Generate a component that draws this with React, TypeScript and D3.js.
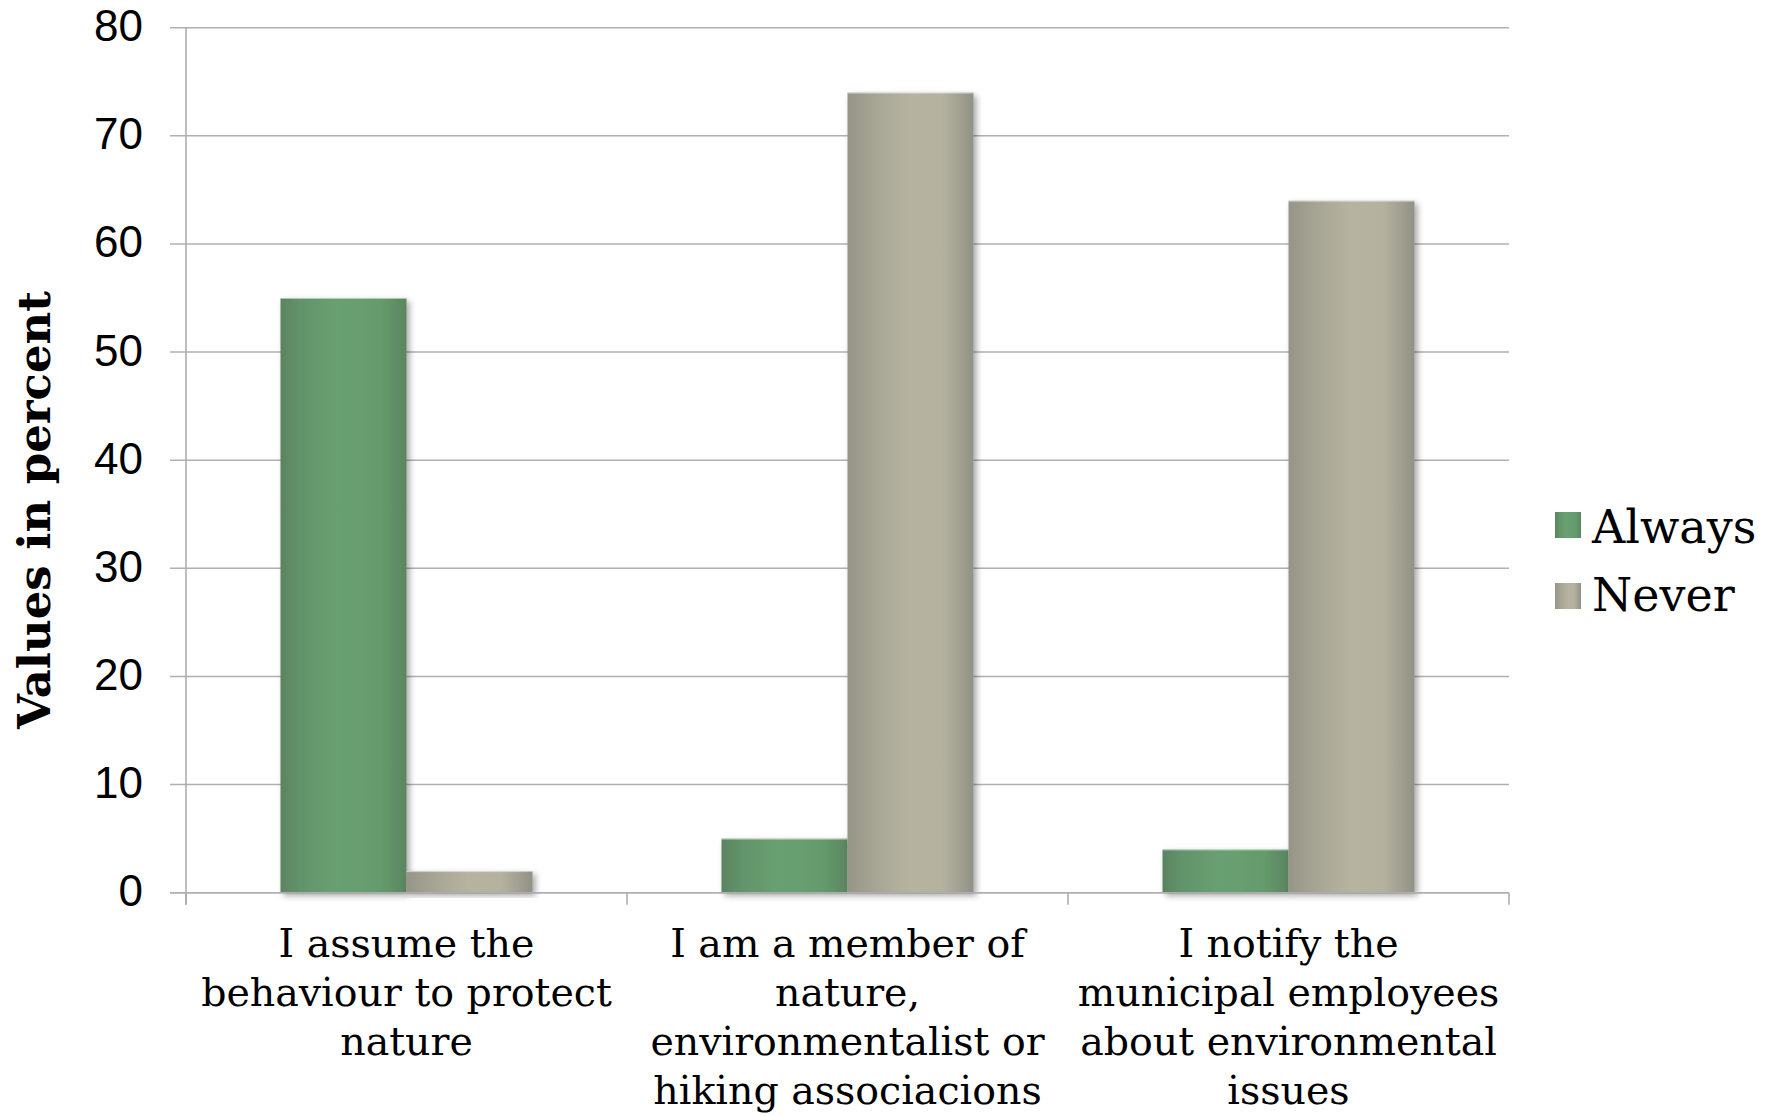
import React from "react";
import * as d3 from "d3";

const categories: string[][] = [
  ["I assume the", "behaviour to protect", "nature"],
  ["I am a member of", "nature,", "environmentalist or", "hiking associacions"],
  ["I notify the", "municipal employees", "about environmental", "issues"],
];
const seriesNames = ["Always", "Never"];
const always = [55, 5, 4];
const never = [2, 74, 64];
const yTicks = [0, 10, 20, 30, 40, 50, 60, 70, 80];
const yTitle = "Values in percent";

const W = 1775;
const H = 1116;
const M = { left: 186, right: 1509, top: 27.7, bottom: 892.7 };

export default function App() {
  const x = d3
    .scaleBand<number>()
    .domain(categories.map((_, i) => i))
    .range([M.left, M.right])
    .paddingInner(0)
    .paddingOuter(0);
  const y = d3.scaleLinear().domain([0, 80]).range([M.bottom, M.top]);
  const bw = x.bandwidth() / 3.5;
  const series = [always, never];
  const grads = ["gAlways", "gNever"];
  const serif = "'DejaVu Serif', serif";

  const catBounds = [...categories.map((_, i) => x(i)!), M.right];

  return (
    <svg
      width={W}
      height={H}
      style={{ position: "absolute", left: 0, top: 0, background: "#fff" }}
    >
      <defs>
        <linearGradient id="gAlways" x1="0" x2="1" y1="0" y2="0">
          <stop offset="0" stopColor="#5a8360" />
          <stop offset="0.15" stopColor="#62936a" />
          <stop offset="0.45" stopColor="#69a071" />
          <stop offset="0.8" stopColor="#659b6c" />
          <stop offset="1" stopColor="#5a8560" />
        </linearGradient>
        <linearGradient id="gNever" x1="0" x2="1" y1="0" y2="0">
          <stop offset="0" stopColor="#959487" />
          <stop offset="0.2" stopColor="#a5a493" />
          <stop offset="0.5" stopColor="#b6b4a0" />
          <stop offset="0.75" stopColor="#b4b29f" />
          <stop offset="1" stopColor="#929186" />
        </linearGradient>
        <filter id="shadow" x="-10%" y="-10%" width="130%" height="130%">
          <feDropShadow dx="3" dy="3" stdDeviation="3" floodColor="#000" floodOpacity="0.35" />
        </filter>
      </defs>

      {yTicks.map((t) => (
        <line
          key={"g" + t}
          x1={M.left - 16}
          x2={M.right}
          y1={y(t)}
          y2={y(t)}
          stroke="#b0b0b0"
          strokeWidth={1.5}
        />
      ))}
      <line x1={M.left} x2={M.left} y1={M.top} y2={M.bottom + 12} stroke="#a8a8a8" strokeWidth={1.5} />
      {catBounds.map((cx, i) => (
        <line key={"xt" + i} x1={cx} x2={cx} y1={M.bottom} y2={M.bottom + 12} stroke="#a8a8a8" strokeWidth={1.5} />
      ))}

      {series.map((vals, s) =>
        vals.map((v, i) => {
          const bx = x(i)! + bw * 0.75 + s * bw;
          return (
            <g key={`b${s}-${i}`}>
              <rect
                x={bx}
                y={y(v)}
                width={bw}
                height={M.bottom - y(v)}
                fill={`url(#${grads[s]})`}
                filter="url(#shadow)"
              />
              <line x1={bx} x2={bx + bw} y1={y(v) + 0.5} y2={y(v) + 0.5} stroke="#ffffff" strokeOpacity={0.5} strokeWidth={1} />
            </g>
          );
        })
      )}
      <line x1={M.left - 16} x2={M.right} y1={M.bottom} y2={M.bottom} stroke="#b0b0b0" strokeWidth={1.5} />

      {yTicks.map((t) => (
        <text
          key={"yl" + t}
          x={143}
          y={y(t) - 2}
          textAnchor="end"
          dominantBaseline="central"
          fontFamily="'Liberation Sans', Arial, sans-serif"
          fontSize={44}
          fill="#000"
        >
          {t}
        </text>
      ))}

      <text
        transform={`translate(50, 510) rotate(-90)`}
        textAnchor="middle"
        fontFamily={serif}
        fontWeight="bold"
        fontSize={45}
        fill="#000"
      >
        {yTitle}
      </text>

      {categories.map((lines, i) => (
        <text
          key={"xl" + i}
          textAnchor="middle"
          fontFamily={serif}
          fontSize={39.5}
          fill="#000"
        >
          {lines.map((ln, j) => (
            <tspan key={j} x={x(i)! + x.bandwidth() / 2} y={957 + j * 49}>
              {ln}
            </tspan>
          ))}
        </text>
      ))}

      {seriesNames.map((n, s) => (
        <g key={"lg" + s}>
          <rect x={1555} y={512 + s * 71} width={26} height={26} fill={`url(#${grads[s]})`} />
          <text x={1592} y={543 + s * 68} fontFamily={serif} fontSize={46} fill="#000">
            {n}
          </text>
        </g>
      ))}
    </svg>
  );
}
